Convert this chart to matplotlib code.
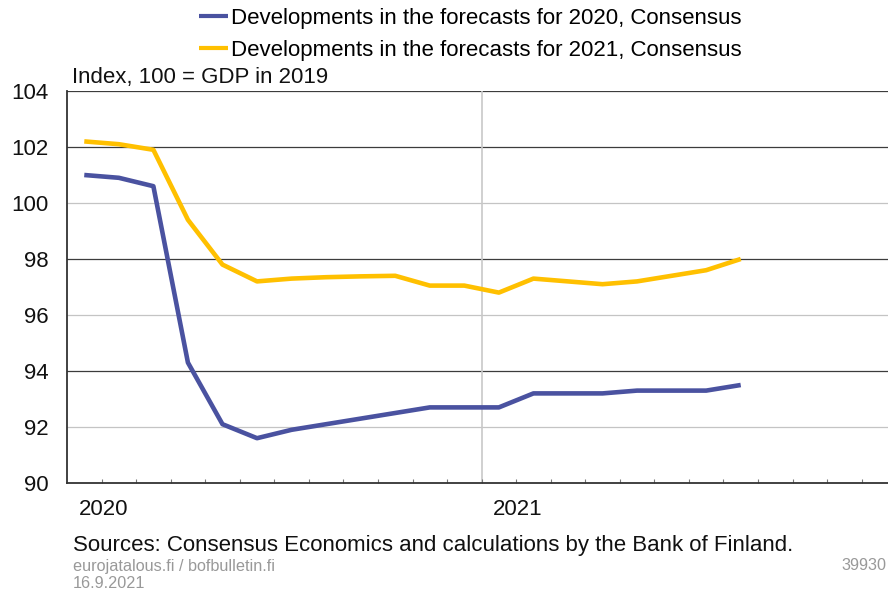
import matplotlib
matplotlib.use("Agg")
import matplotlib.pyplot as plt
import numpy as np

plt.rcParams['font.family'] = ['Liberation Sans', 'DejaVu Sans']

months = ["2020-01", "2020-02", "2020-03", "2020-04", "2020-05", "2020-06",
          "2020-07", "2020-08", "2020-09", "2020-10", "2020-11", "2020-12",
          "2021-01", "2021-02", "2021-03", "2021-04", "2021-05", "2021-06",
          "2021-07", "2021-08"]
forecast_2020 = [101.0, 100.9, 100.6, 94.3, 92.1, 91.6, 91.9, 92.1, 92.3, 92.5,
                 92.7, 92.7, 92.7, 93.2, 93.2, 93.2, 93.3, 93.3, 93.3, 93.5]
forecast_2021 = [102.2, 102.1, 101.9, 99.4, 97.8, 97.2, 97.3, 97.35, 97.38, 97.4,
                 97.05, 97.05, 96.8, 97.3, 97.2, 97.1, 97.2, 97.4, 97.6, 98.0]
labels = ["Developments in the forecasts for 2020, Consensus",
          "Developments in the forecasts for 2021, Consensus"]
year_labels = ["2020", "2021"]
yticks = [90, 92, 94, 96, 98, 100, 102, 104]

blue = "#4A52A0"
gold = "#FFC000"
FS = 16

W, H = 888, 593
fig = plt.figure(figsize=(W / 100, H / 100), dpi=100)
ax = fig.add_axes([67 / W, 1 - 483 / H, (W - 67) / W, (483 - 91) / H])

x = np.arange(len(months)) + 0.5
ax.set_xlim(0, (W - 67) / 34.55)
ax.set_ylim(90, 104)

# gridlines
for v in yticks[1:]:
    col = "#3c3c3c" if v in (104, 102, 98, 94) else "#c4c4c4"
    ax.axhline(v, color=col, lw=0.9, zorder=1)
ax.axvline(12, color="#c8c8c8", lw=1.2, zorder=1)

l1, = ax.plot(x, forecast_2020, color=blue, lw=3.3, zorder=3, solid_capstyle='butt')
l2, = ax.plot(x, forecast_2021, color=gold, lw=3.3, zorder=3, solid_capstyle='butt')

ax.set_yticks(yticks)
ax.set_yticklabels([str(v) for v in yticks], fontsize=FS)
ax.tick_params(axis='y', length=0, pad=13.5, labelcolor='#111111')
ax.set_xticks(np.arange(1, 24))
ax.set_xticklabels([])
ax.tick_params(axis='x', direction='in', length=3, width=0.8, color='#777777')

for s in ['top', 'right']:
    ax.spines[s].set_visible(False)
for s in ['left', 'bottom']:
    ax.spines[s].set_color('#333333')
    ax.spines[s].set_linewidth(1.3)

# year labels
trans = ax.get_xaxis_transform()
for i, yl in enumerate(year_labels):
    ax.text(i * 12 + 1.05, -0.067, yl, transform=trans, ha='center', va='center',
            fontsize=FS, color='#111111')

# legend
leg = fig.legend([l1, l2], labels, loc='upper left', bbox_to_anchor=(199 / W, 1 - 8 / H),
                 frameon=False, fontsize=FS, handlelength=1.3, handletextpad=0.15,
                 labelspacing=0.5, borderaxespad=0, borderpad=0)
for line in leg.get_lines():
    line.set_linewidth(3)

fig.text(72 / W, 1 - 77 / H, "Index, 100 = GDP in 2019", fontsize=FS, ha='left', va='center',
         color='#111111')
fig.text(73 / W, 1 - 545 / H, "Sources: Consensus Economics and calculations by the Bank of Finland.",
         fontsize=FS, ha='left', va='center', color='#111111')
fig.text(73 / W, 1 - 566 / H, "eurojatalous.fi / bofbulletin.fi", fontsize=11.7, ha='left',
         va='center', color='#999999')
fig.text(73 / W, 1 - 584 / H, "16.9.2021", fontsize=11.7, ha='left', va='center', color='#999999')
fig.text(886 / W, 1 - 566 / H, "39930", fontsize=11.7, ha='right', va='center', color='#999999')

fig.savefig("out.png", dpi=100)
